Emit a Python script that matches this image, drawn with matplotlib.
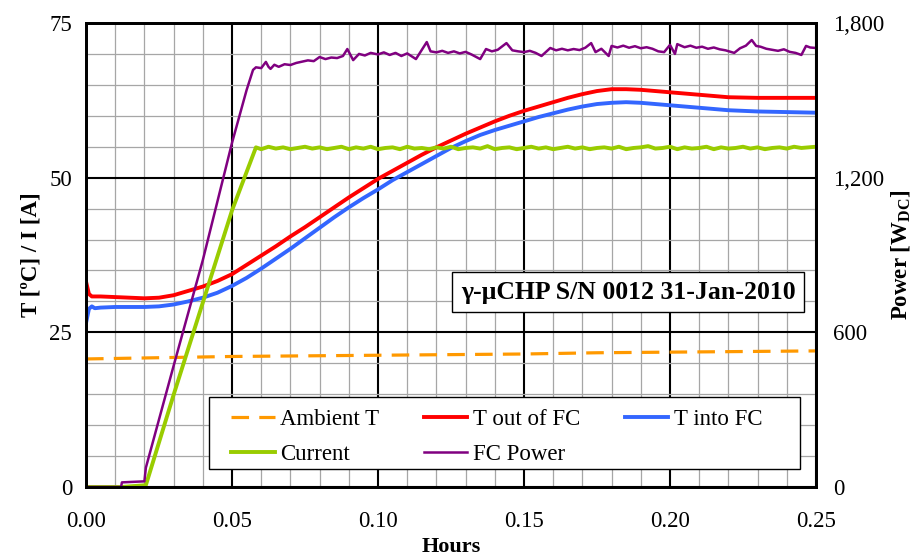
import matplotlib
matplotlib.use("Agg")
import matplotlib.pyplot as plt
from matplotlib.patches import Rectangle
from matplotlib.ticker import MultipleLocator, FuncFormatter

plt.rcParams['font.family'] = ['Liberation Serif', 'DejaVu Serif']
plt.rcParams['mathtext.fontset'] = 'custom'
plt.rcParams['mathtext.rm'] = 'Liberation Serif'
plt.rcParams['mathtext.bf'] = 'Liberation Serif:bold'

# ---- data (hours) ----
t_temp = [0.000, 0.001, 0.002, 0.003, 0.005, 0.010, 0.015, 0.020, 0.025, 0.030, 0.035,
          0.040, 0.045, 0.050, 0.055, 0.060, 0.065, 0.070, 0.075, 0.080, 0.085, 0.090,
          0.095, 0.100, 0.105, 0.110, 0.115, 0.120, 0.125, 0.130, 0.135, 0.140, 0.145,
          0.150, 0.155, 0.160, 0.165, 0.170, 0.175, 0.180, 0.185, 0.190, 0.195, 0.200,
          0.205, 0.210, 0.215, 0.220, 0.230, 0.240, 0.250]
t_out = [33.2, 31.2, 30.8, 30.8, 30.8, 30.7, 30.6, 30.5, 30.6, 31.0, 31.7,
         32.4, 33.3, 34.4, 35.9, 37.4, 38.9, 40.5, 42.0, 43.6, 45.2, 46.8,
         48.3, 49.8, 51.1, 52.4, 53.7, 54.9, 56.0, 57.1, 58.1, 59.1, 60.0,
         60.8, 61.5, 62.2, 62.9, 63.5, 64.0, 64.3, 64.3, 64.2, 64.0, 63.8,
         63.6, 63.4, 63.2, 63.0, 62.9, 62.9, 62.9]
t_in = [26.5, 28.8, 29.2, 28.9, 29.0, 29.1, 29.1, 29.1, 29.2, 29.5, 30.0,
        30.6, 31.4, 32.5, 33.8, 35.3, 36.9, 38.5, 40.2, 41.9, 43.6, 45.2,
        46.7, 48.1, 49.6, 50.9, 52.2, 53.5, 54.8, 55.9, 56.9, 57.7, 58.4,
        59.1, 59.8, 60.4, 61.0, 61.5, 61.9, 62.1, 62.2, 62.1, 61.9, 61.7,
        61.5, 61.3, 61.1, 60.9, 60.7, 60.6, 60.5]

t_amb = [0.000, 0.025, 0.050, 0.075, 0.100, 0.125, 0.150, 0.175, 0.200, 0.225, 0.250]
ambient = [20.7, 20.9, 21.1, 21.2, 21.3, 21.4, 21.5, 21.7, 21.8, 21.9, 22.0]

t_cur = [0.000, 0.012, 0.0205, 0.030, 0.040, 0.050, 0.0582, 0.060, 0.0625, 0.065,
         0.0675, 0.070, 0.0725, 0.075, 0.0775, 0.080, 0.0825, 0.085, 0.0875, 0.090,
         0.0925, 0.095, 0.0975, 0.100, 0.1025, 0.105, 0.1075, 0.110, 0.1125, 0.115,
         0.1175, 0.120, 0.1225, 0.125, 0.1275, 0.130, 0.1325, 0.135, 0.1375, 0.140,
         0.1425, 0.145, 0.1475, 0.150, 0.1525, 0.155, 0.1575, 0.160, 0.1625, 0.165,
         0.1675, 0.170, 0.1725, 0.175, 0.1775, 0.180, 0.1825, 0.185, 0.1875, 0.190,
         0.1925, 0.195, 0.1975, 0.200, 0.2025, 0.205, 0.2075, 0.210, 0.2125, 0.215,
         0.2175, 0.220, 0.2225, 0.225, 0.2275, 0.230, 0.2325, 0.235, 0.2375, 0.240,
         0.2425, 0.245, 0.2475, 0.250]
current = [0.0, 0.0, 0.3, 14.9, 29.8, 44.7, 54.9, 54.6, 55.0, 54.7,
           54.9, 54.6, 54.8, 55.0, 54.7, 54.9, 54.6, 54.8, 55.0, 54.6,
           54.9, 54.7, 55.0, 54.6, 54.8, 54.9, 54.6, 55.0, 54.7, 54.8,
           54.6, 54.9, 54.7, 55.0, 54.6, 54.8, 54.9, 54.7, 55.1, 54.6,
           54.8, 54.9, 54.6, 54.8, 55.0, 54.7, 54.9, 54.6, 54.8, 55.0,
           54.7, 54.9, 54.6, 54.8, 54.9, 54.7, 55.0, 54.6, 54.8, 54.9,
           55.1, 54.7, 54.8, 55.0, 54.6, 54.9, 54.7, 54.8, 55.0, 54.6,
           54.9, 54.7, 54.8, 55.0, 54.7, 54.9, 54.6, 54.8, 54.9, 54.7,
           55.0, 54.8, 54.9, 55.0]

t_pow = [0.000, 0.0120, 0.0123, 0.0160, 0.0200, 0.0205, 0.0300, 0.0400, 0.0500, 0.0550,
         0.0572, 0.0582, 0.0600, 0.0616, 0.0625, 0.0632, 0.0645, 0.0660, 0.0680, 0.0700,
         0.0720, 0.0740, 0.0760, 0.0780, 0.0800, 0.0820, 0.0840, 0.0860, 0.0880, 0.0895,
         0.0915, 0.0935, 0.0955, 0.0975, 0.1000, 0.1020, 0.1040, 0.1060, 0.1080, 0.1100,
         0.1130, 0.1167, 0.1180, 0.1200, 0.1220, 0.1240, 0.1260, 0.1280, 0.1300, 0.1320,
         0.1350, 0.1370, 0.1390, 0.1410, 0.1440, 0.1460, 0.1480, 0.1500, 0.1520, 0.1540,
         0.1560, 0.1590, 0.1610, 0.1630, 0.1650, 0.1670, 0.1690, 0.1710, 0.1730, 0.1745,
         0.1765, 0.1790, 0.1800, 0.1820, 0.1840, 0.1860, 0.1880, 0.1900, 0.1920, 0.1940,
         0.1960, 0.1980, 0.2000, 0.2017, 0.2025, 0.2050, 0.2070, 0.2090, 0.2110, 0.2130,
         0.2150, 0.2170, 0.2190, 0.2220, 0.2240, 0.2260, 0.2280, 0.2295, 0.2310, 0.2330,
         0.2350, 0.2370, 0.2390, 0.2410, 0.2430, 0.2450, 0.2466, 0.2480, 0.2500]
power = [0, 0, 18, 20, 22, 75, 470, 880, 1335, 1540,
         1618, 1628, 1625, 1649, 1630, 1622, 1638, 1630, 1640, 1637,
         1645, 1650, 1655, 1652, 1668, 1660, 1666, 1664, 1672, 1699,
         1656, 1680, 1674, 1684, 1678, 1686, 1676, 1684, 1672, 1682,
         1660, 1726, 1690, 1686, 1692, 1684, 1690, 1682, 1688, 1678,
         1660, 1699, 1690, 1696, 1722, 1694, 1690, 1687, 1692, 1684,
         1672, 1703, 1694, 1700, 1694, 1699, 1695, 1704, 1722, 1687,
         1700, 1672, 1711, 1705, 1712, 1704, 1710, 1702, 1706, 1700,
         1690, 1687, 1715, 1680, 1718, 1706, 1712, 1704, 1708, 1700,
         1705, 1698, 1694, 1684, 1702, 1712, 1734, 1711, 1708, 1700,
         1696, 1692, 1698, 1688, 1684, 1676, 1711, 1705, 1703]

fig = plt.figure(figsize=(9.16, 5.58), dpi=100)
ax = fig.add_axes([0.0939, 0.1272, 0.7969, 0.8316])
ax2 = ax.twinx()

l_amb, = ax.plot(t_amb, ambient, color='#FF9900', lw=2.3, dashes=(5.5, 3.2), label='Ambient T')
l_out, = ax.plot(t_temp, t_out, color='#FF0000', lw=2.8, label='T out of FC')
l_in, = ax.plot(t_temp, t_in, color='#3366FF', lw=2.8, label='T into FC')
l_cur, = ax.plot(t_cur, current, color='#99CC00', lw=2.8, label='Current')
l_pow, = ax2.plot(t_pow, power, color='#800080', lw=1.8, label='FC Power')

ax.set_xlim(0, 0.25)
ax.set_ylim(0, 75)
ax2.set_ylim(0, 1800)
ax.xaxis.set_major_locator(MultipleLocator(0.05))
ax.xaxis.set_minor_locator(MultipleLocator(0.01))
ax.yaxis.set_major_locator(MultipleLocator(25))
ax.yaxis.set_minor_locator(MultipleLocator(5))
ax2.yaxis.set_major_locator(MultipleLocator(600))
ax.xaxis.set_major_formatter(FuncFormatter(lambda v, p: f'{v:.2f}'))
ax2.yaxis.set_major_formatter(FuncFormatter(lambda v, p: f'{v:,.0f}'))

ax.grid(which='major', color='black', lw=1.5)
ax.grid(which='minor', color='#A6A6A6', lw=0.9)
ax.set_axisbelow(True)
for a in (ax, ax2):
    for s in a.spines.values():
        s.set_linewidth(2.0)
    a.tick_params(which='both', length=0, labelsize=16.5)
ax.tick_params(axis='x', pad=17)
ax.tick_params(axis='y', pad=10)
ax2.tick_params(axis='y', pad=12)

ax.set_xlabel('Hours', fontsize=16, fontweight='bold', labelpad=4)
ax.set_ylabel('T [ºC] / I [A]', fontsize=16.5, fontweight='bold', labelpad=6)
ax2.set_ylabel('Power [W$_\\mathbf{DC}$]', fontsize=16.5, fontweight='bold', labelpad=4)

# legend frame drawn separately so the entries can sit where the original has them
ax2.add_patch(Rectangle((0.1685, 0.0388), 0.8095, 0.1552, transform=ax2.transAxes,
                        fc='white', ec='black', lw=1.0, zorder=4))
leg = ax2.legend([l_amb, l_cur, l_out, l_pow, l_in],
                 ['Ambient T', 'Current', 'T out of FC', 'FC Power', 'T into FC'],
                 ncol=3, mode='expand', loc='center left',
                 bbox_to_anchor=(0.1986, -0.008, 0.7284, 0.232),
                 fontsize=16.5, frameon=False, handlelength=1.9, handletextpad=0.25,
                 borderpad=0, labelspacing=0.62, borderaxespad=0)
leg.set_zorder(5)

ax2.text(0.972, 0.42, 'γ-μCHP S/N 0012 31-Jan-2010', transform=ax2.transAxes,
         ha='right', va='center', fontsize=18.5, fontweight='bold',
         bbox=dict(boxstyle='square,pad=0.33', fc='white', ec='black', lw=1.0))

fig.savefig('out.png', dpi=100)
